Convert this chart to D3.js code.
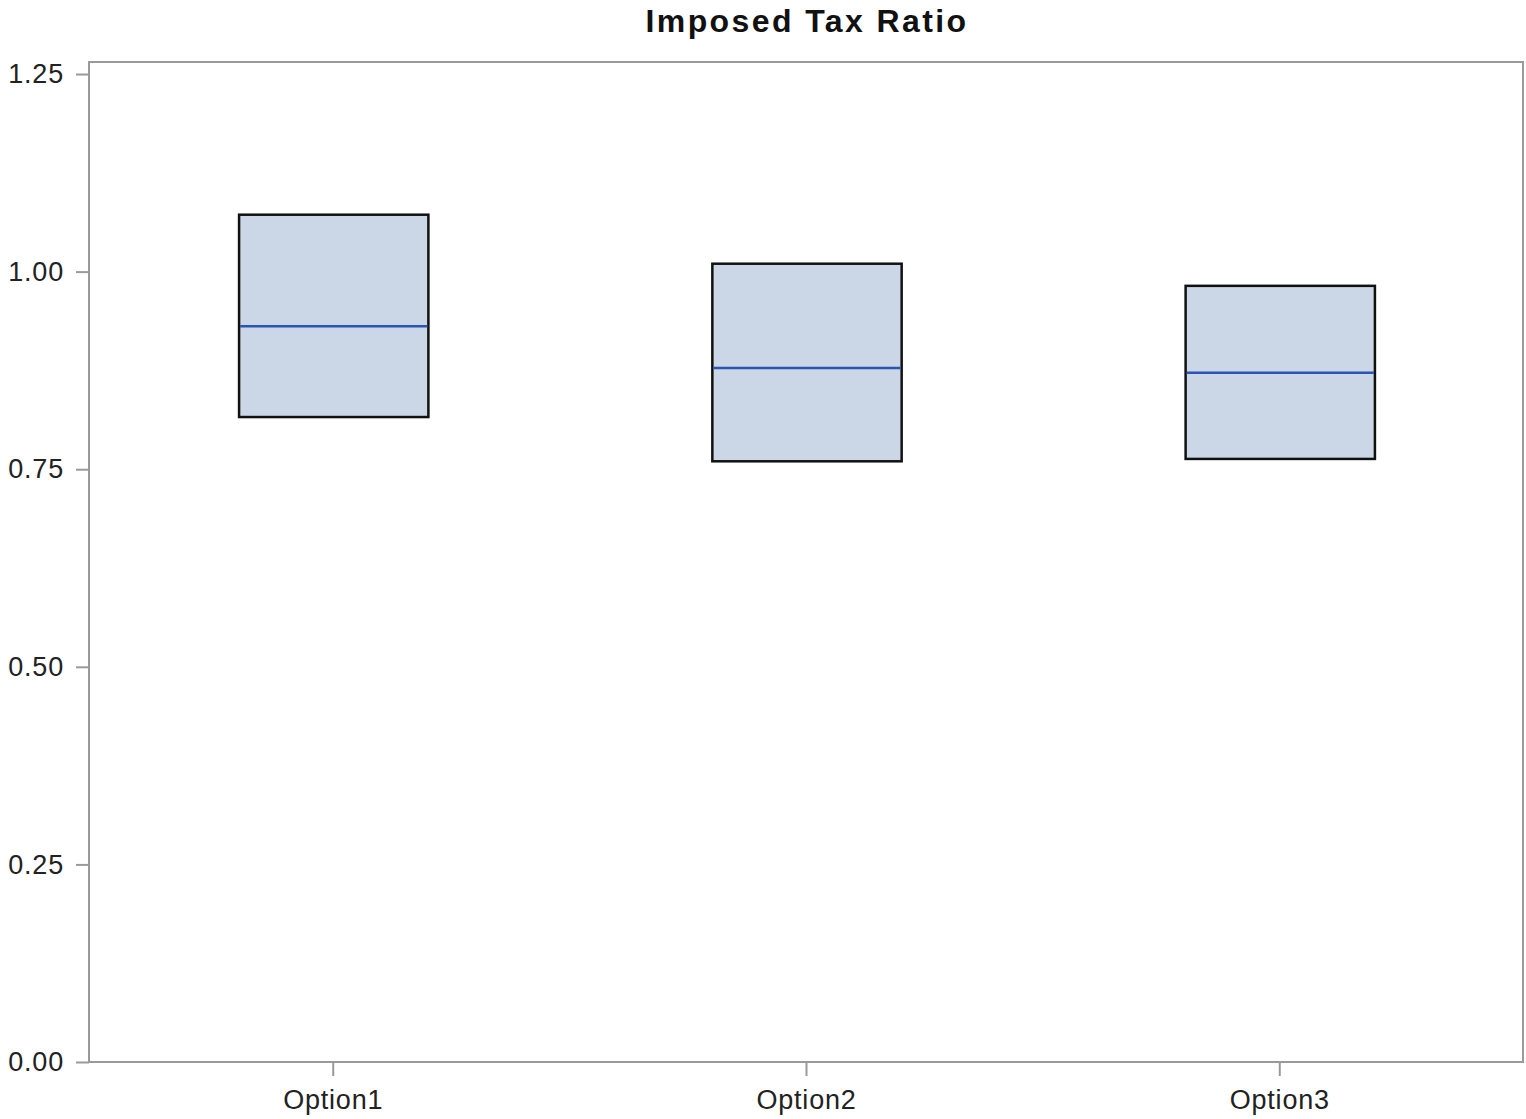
<!DOCTYPE html>
<html>
<head>
<meta charset="utf-8">
<script src="https://cdn.jsdelivr.net/npm/d3@7"></script>
<style>
    html, body { margin: 0; padding: 0; background: #fff; }
    svg { display: block; }
    .axis text { font-family: Arial, "Liberation Sans", sans-serif; font-size: 27px; letter-spacing: 0.8px; fill: #222; }
    .axis path, .axis line { stroke: #9a9a9a; stroke-width: 2; }
</style>
</head>
<body>
<svg id="chart"></svg>
<script>
const categories = ['Option1', 'Option2', 'Option3'];
const q1Values = [0.816, 0.760, 0.763];
const medianValues = [0.931, 0.878, 0.872];
const q3Values = [1.072, 1.010, 0.982];
const yTicks = [0, 0.25, 0.5, 0.75, 1.0, 1.25];

const width = 1526;
const height = 1119;
const margin = { top: 62, right: 3, bottom: 57, left: 89 };

const svg = d3.select('#chart')
    .attr('width', width)
    .attr('height', height);

const x = d3.scalePoint()
    .domain(categories)
    .range([margin.left, width - margin.right])
    .padding(0.515);

const y = d3.scaleLinear()
    .domain([0, 1.2652])
    .range([height - margin.bottom, margin.top]);

const boxWidth = x.step() * 0.4;

// plot frame
svg.append('rect')
    .attr('x', margin.left)
    .attr('y', margin.top)
    .attr('width', width - margin.right - margin.left)
    .attr('height', height - margin.bottom - margin.top)
    .attr('fill', 'none')
    .attr('stroke', '#9a9a9a')
    .attr('stroke-width', 2);

svg.append('g')
    .attr('class', 'axis')
    .attr('transform', `translate(${margin.left},0)`)
    .call(d3.axisLeft(y).tickValues(yTicks).tickFormat(d3.format('.2f')).tickSize(13).tickPadding(12))
    .call(g => g.select('.domain').remove());

svg.append('g')
    .attr('class', 'axis')
    .attr('transform', `translate(0,${height - margin.bottom})`)
    .call(d3.axisBottom(x).tickSize(14).tickPadding(14))
    .call(g => g.select('.domain').remove());

const boxes = svg.append('g')
    .selectAll('g')
    .data(categories)
    .enter()
    .append('g');

boxes.append('rect')
    .attr('x', d => x(d) - boxWidth / 2 + 1)
    .attr('y', (d, i) => y(q3Values[i]))
    .attr('width', boxWidth)
    .attr('height', (d, i) => y(q1Values[i]) - y(q3Values[i]))
    .attr('fill', '#cbd6e6')
    .attr('stroke', '#111')
    .attr('stroke-width', 2.5);

boxes.append('line')
    .attr('x1', d => x(d) - boxWidth / 2 + 2)
    .attr('x2', d => x(d) + boxWidth / 2)
    .attr('y1', (d, i) => y(medianValues[i]))
    .attr('y2', (d, i) => y(medianValues[i]))
    .attr('stroke', '#2a55b0')
    .attr('stroke-width', 2.5);

svg.append('text')
    .attr('x', 807)
    .attr('y', 32)
    .attr('text-anchor', 'middle')
    .style('font-family', 'Arial, "Liberation Sans", sans-serif')
    .style('font-size', '32px')
    .style('font-weight', 'bold')
    .style('letter-spacing', '2.4px')
    .style('fill', '#111')
    .text('Imposed Tax Ratio');
</script>
</body>
</html>
